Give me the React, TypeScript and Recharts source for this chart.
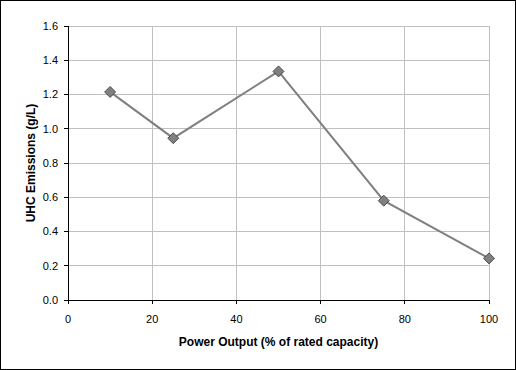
import { LineChart, Line, XAxis, YAxis, CartesianGrid } from "recharts";

// UHC emissions vs power output — Excel-style grey line with diamond markers.

const powerOutput = [10, 25, 50, 75, 100];
const uhcEmissions = [1.215, 0.945, 1.335, 0.58, 0.243];
const xTicks = [0, 20, 40, 60, 80, 100];
const yTicks = [0, 0.2, 0.4, 0.6, 0.8, 1.0, 1.2, 1.4, 1.6];
const xMax = 100;
const yMax = 1.6;

const data = powerOutput.map((p, i) => ({ power: p, uhc: uhcEmissions[i] }));

const font = "'Liberation Sans', Arial, sans-serif";
const crisp = { stroke: "#000", strokeWidth: 1, shapeRendering: "crispEdges" };

function Diamond(props: any) {
  const { cx, cy } = props;
  if (cx == null || cy == null) return null;
  const r = 5.5;
  return (
    <polygon
      points={`${cx},${cy - r} ${cx + r},${cy} ${cx},${cy + r} ${cx - r},${cy}`}
      fill="#808080"
      stroke="#333333"
      strokeWidth={0.8}
    />
  );
}

// grid lines at the ticks, but skipping the ones that sit on the axes
const hGrid = ({ offset }: any) =>
  yTicks
    .filter((t) => t > 0)
    .map((t) => offset.top + offset.height * (1 - t / yMax));
const vGrid = ({ offset }: any) =>
  xTicks.filter((t) => t > 0).map((t) => offset.left + (offset.width * t) / xMax);

export default function App() {
  return (
    <div
      style={{
        position: "absolute",
        left: 0,
        top: 0,
        width: 516,
        height: 370,
        boxSizing: "border-box",
        border: "1px solid #000",
        background: "#fff",
        fontFamily: font,
      }}
    >
      <LineChart
        width={514}
        height={368}
        data={data}
        margin={{ top: 25, right: 26, bottom: 29, left: 0 }}
      >
        <CartesianGrid
          stroke="#C0C0C0"
          strokeWidth={1}
          shapeRendering="crispEdges"
          horizontalCoordinatesGenerator={hGrid}
          verticalCoordinatesGenerator={vGrid}
        />
        <XAxis
          dataKey="power"
          type="number"
          domain={[0, xMax]}
          ticks={xTicks}
          height={40}
          axisLine={crisp}
          tickLine={crisp}
          tickSize={4}
          tickMargin={11}
          tick={{ fontSize: 11, fill: "#000", fontFamily: font }}
          label={{
            value: "Power Output (% of rated capacity)",
            position: "insideBottom",
            offset: -6,
            style: { fontSize: 12, fontWeight: "bold", fill: "#000", fontFamily: font },
          }}
        />
        <YAxis
          type="number"
          domain={[0, yMax]}
          ticks={yTicks}
          width={67}
          axisLine={crisp}
          tickLine={crisp}
          tickSize={4}
          tickMargin={6}
          tickFormatter={(v: number) => v.toFixed(1)}
          tick={{ fontSize: 11, fill: "#000", fontFamily: font }}
          label={{
            value: "UHC Emissions (g/L)",
            angle: -90,
            position: "insideLeft",
            offset: 30,
            style: {
              fontSize: 12,
              fontWeight: "bold",
              fill: "#000",
              fontFamily: font,
              textAnchor: "middle",
            },
          }}
        />
        <Line
          dataKey="uhc"
          stroke="#808080"
          strokeWidth={2}
          dot={<Diamond />}
          activeDot={false}
          isAnimationActive={false}
        />
      </LineChart>
    </div>
  );
}
